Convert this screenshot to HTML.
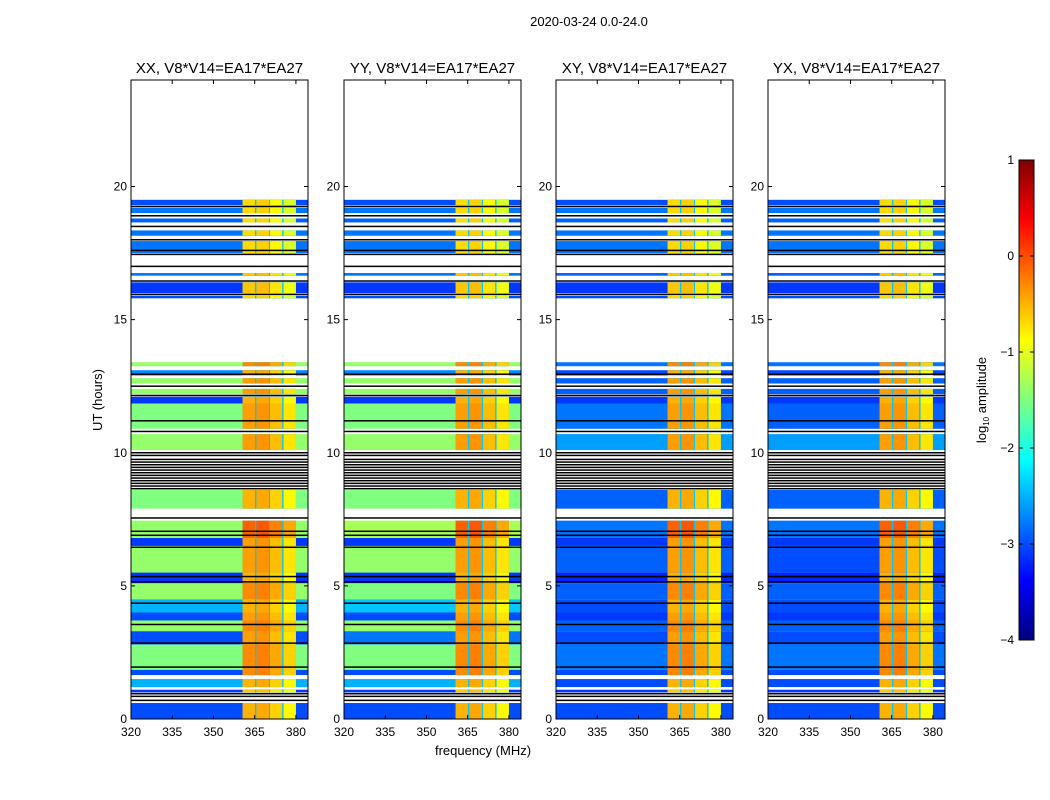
<!DOCTYPE html>
<html><head><meta charset="utf-8"><style>
body{margin:0;background:#fff;}
svg{display:block;font-family:"Liberation Sans",sans-serif;}
</style></head><body>
<svg id="fig" width="1050" height="800" viewBox="0 0 1050 800">
<defs>
<linearGradient id="jet" x1="0" y1="1" x2="0" y2="0"></linearGradient>
</defs>
<text x="589" y="26" font-size="13" text-anchor="middle">2020-03-24 0.0-24.0</text>
<g id="panels"></g>
<g>
<rect x="1019" y="160" width="15" height="480" fill="url(#jet)" stroke="#000" stroke-width="1"/>
<g id="cbticks"></g>
<text transform="translate(986,400) rotate(-90)" font-size="13" text-anchor="middle">log<tspan font-size="8" dy="3">10</tspan><tspan dy="-3"> amplitude</tspan></text>
</g>
<text x="483" y="755" font-size="13" text-anchor="middle">frequency (MHz)</text>
<text transform="translate(102,400) rotate(-90)" font-size="13" text-anchor="middle">UT (hours)</text>
</svg>
<script>
const panelTitles=["XX, V8*V14=EA17*EA27","YY, V8*V14=EA17*EA27","XY, V8*V14=EA17*EA27","YX, V8*V14=EA17*EA27"];
const xTicks=[320,335,350,365,380];
const yTicks=[0,5,10,15,20];
const cbTicks=[1,0,-1,-2,-3,-4];
const rowStart=[0,1.0,1.2,1.65,1.85,2.8,3.3,3.7,4.0,4.5,5.1,5.5,6.5,6.8,7.9,10.1,10.9,11.85,12.2,12.6,12.9,13.25,15.8,16.0,16.65,17.5,18.15,18.65,19.0,19.3];
const rowEnd=[0.6,1.1,1.5,1.85,2.8,3.3,3.7,4.0,4.5,5.1,5.5,6.5,6.8,7.45,8.6,10.7,11.85,12.1,12.4,12.8,13.1,13.4,15.9,16.4,16.75,17.95,18.35,18.8,19.2,19.5];
const bgXX=[-3.0,-3.1,-2.5,-3.0,-1.5,-3.0,-1.4,-3.0,-2.5,-1.4,-3.1,-1.4,-3.1,-1.4,-1.5,-1.4,-1.5,-3.1,-1.4,-1.4,-2.7,-1.4,-3.0,-3.1,-2.8,-2.8,-2.8,-2.9,-2.8,-3.0];
const bgYY=[-3.0,-3.1,-2.5,-3.0,-1.5,-2.8,-1.4,-3.0,-2.4,-1.5,-3.1,-1.4,-3.1,-1.3,-1.5,-1.4,-1.5,-3.1,-1.4,-1.4,-2.7,-1.4,-3.0,-3.1,-2.8,-2.8,-2.8,-2.9,-2.8,-3.0];
const bgXY=[-3.0,-3.1,-3.0,-3.0,-2.8,-3.0,-2.9,-3.1,-3.0,-2.9,-3.2,-2.9,-3.1,-2.8,-2.9,-2.6,-2.8,-3.1,-2.9,-2.9,-3.0,-2.8,-3.0,-3.1,-2.9,-2.8,-2.8,-2.9,-2.8,-3.0];
const bgYX=[-3.0,-3.1,-3.0,-3.0,-2.8,-3.0,-2.9,-3.1,-3.0,-2.9,-3.2,-3.0,-3.1,-2.8,-2.9,-2.6,-2.9,-3.1,-2.9,-2.9,-3.0,-2.8,-3.0,-3.1,-2.9,-2.8,-2.8,-2.9,-2.8,-3.0];
const bandLevel=[-0.5,-0.6,-0.5,-0.3,-0.3,-0.4,-0.3,-0.4,-0.5,-0.3,-0.5,-0.4,-0.4,-0.1,-0.5,-0.4,-0.4,-0.5,-0.4,-0.4,-0.5,-0.3,-0.7,-0.6,-0.6,-0.7,-0.7,-0.7,-0.7,-0.7];
const bandFrom=[360.6,365.6,370.6,375.5];
const bandTo=[365.1,370.2,375.0,380.0];
const bandOffset=[0,0.05,-0.15,-0.35];
const gapLevel=-2.4;
const blackLines=[0.7,0.85,0.95,1.95,2.85,3.55,4.35,5.15,5.35,6.45,6.9,7.05,7.55,8.65,8.75,8.85,8.95,9.05,9.15,9.25,9.35,9.45,9.55,9.65,9.75,9.9,10.0,10.8,11.2,12.15,12.5,12.95,15.95,16.45,17.0,17.45,17.6,18.0,18.5,18.9,19.25];
const bgs=[bgXX,bgYY,bgXY,bgYX];
const panelLeft=[131,344,556,768];
const pw=177, plotTop=80, plotBot=719, fmin=320, fmax=384.4, tmin=0, tmax=24;
const NS="http://www.w3.org/2000/svg";
function jet(v){let t=Math.max(0,Math.min(1,(v+4)/5));
 const f=x=>Math.round(255*Math.max(0,Math.min(1,x)));
 return `rgb(${f(1.5-Math.abs(4*t-3))},${f(1.5-Math.abs(4*t-2))},${f(1.5-Math.abs(4*t-1))})`;}
function mk(tag,attrs,parent){const e=document.createElementNS(NS,tag);for(const k in attrs)e.setAttribute(k,attrs[k]);parent.appendChild(e);return e;}
const grad=document.getElementById('jet');
for(let i=0;i<=40;i++){mk('stop',{offset:i/40,'stop-color':jet(-4+5*i/40)},grad);}
const root=document.getElementById('panels');
panelTitles.forEach((title,p)=>{
 const x0=panelLeft[p];
 const xs=f=>x0+(f-fmin)/(fmax-fmin)*pw;
 const ys=t=>plotBot-(t-tmin)/(tmax-tmin)*(plotBot-plotTop);
 const g=mk('g',{},root);
 
 
 const bg=bgs[p];
 rowStart.forEach((t0,i)=>{
  const y1=ys(rowEnd[i]),h=ys(t0)-y1;
  const r=mk('rect',{x:x0,y:y1,width:pw,height:h,fill:jet(bg[i])},g);
  
  
  const gp=mk('rect',{x:xs(bandFrom[0]),y:y1,width:xs(bandTo[3])-xs(bandFrom[0]),height:h,fill:jet(gapLevel)},g);
  
  
  bandFrom.forEach((f0,j)=>{
   const b=mk('rect',{x:xs(f0),y:y1,width:xs(bandTo[j])-xs(f0),height:h,fill:jet(bandLevel[i]+bandOffset[j])},g);
   
   
  });
 });
 blackLines.forEach(t=>{
  const l=mk('rect',{x:x0,y:ys(t)-0.75,width:pw,height:1.5,fill:'#000'},g);
  
  
 });
 const fr=mk('rect',{x:x0,y:plotTop,width:pw,height:plotBot-plotTop,fill:'none',stroke:'#000','stroke-width':1},g);
 
 
 const tt=mk('text',{x:x0+pw/2,y:73,'font-size':15,'text-anchor':'middle'},g);
 tt.textContent=title;
 
 
 xTicks.forEach(v=>{const x=xs(v);
  mk('line',{x1:x,x2:x,y1:plotBot,y2:plotBot-4,stroke:'#000'},g);
  mk('line',{x1:x,x2:x,y1:plotTop,y2:plotTop+4,stroke:'#000'},g);
  const t=mk('text',{x:x,y:plotBot+17,'font-size':12,'text-anchor':'middle'},g);
  t.textContent=v;
  
  });
 yTicks.forEach(v=>{const y=ys(v);
  mk('line',{x1:x0,x2:x0+4,y1:y,y2:y,stroke:'#000'},g);
  mk('line',{x1:x0+pw,x2:x0+pw-4,y1:y,y2:y,stroke:'#000'},g);
  const t=mk('text',{x:x0-4,y:y+4,'font-size':12,'text-anchor':'end'},g);
  t.textContent=v;
  
  });
});
const cb=document.getElementById('cbticks');
cbTicks.forEach(v=>{const y=160+(1-v)/5*480;
 mk('line',{x1:1019,x2:1023,y1:y,y2:y,stroke:'#000'},cb);
 mk('line',{x1:1034,x2:1030,y1:y,y2:y,stroke:'#000'},cb);
 const t=mk('text',{x:1014,y:y+4,'font-size':12,'text-anchor':'end'},cb);
 t.textContent=v<0?'\u2212'+(-v):v;
 
 });
</script>
</body></html>
